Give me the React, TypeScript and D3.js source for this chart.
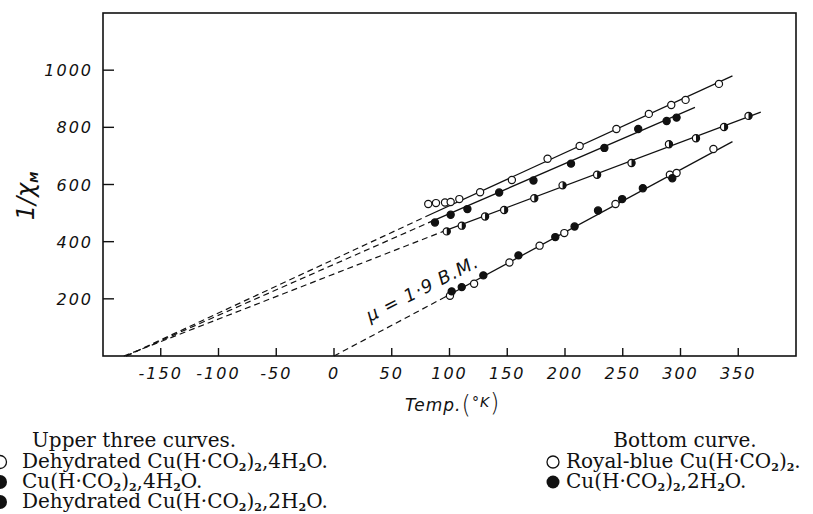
import React from "react";
import * as d3 from "d3";

// ---- data ----
const tempTicks = [-150, -100, -50, 0, 50, 100, 150, 200, 250, 300, 350];
const invTicks = [200, 400, 600, 800, 1000];

// Upper three curves
const dehyd4T = [81.6, 88.3, 96.1, 101, 108.5, 126.5, 154, 184.9, 212.7, 244.5, 272.6, 292, 304.4, 333.3];
const dehyd4Inv = [532, 535, 537, 539, 549, 573, 616, 690, 735, 794, 847, 878, 896, 952];

const tetraT = [87.4, 101, 115.5, 143, 172.7, 205.2, 234.1, 263.4, 288, 296.6];
const tetraInv = [467, 494, 514, 572, 614, 673, 728, 794, 822, 834];

const dehyd2T = [97.6, 110.6, 130.8, 147.3, 173.4, 197.9, 227.8, 257.6, 290, 313.4, 337.7, 358.9];
const dehyd2Inv = [436, 456, 488, 511, 552, 597, 634, 675, 741, 762, 801, 840];

// Bottom curve
const royalT = [100.4, 121.3, 151.9, 178, 199.4, 243.7, 290.8, 296.6, 328.5];
const royalInv = [211, 253, 327, 386, 430, 532, 634, 640, 724];

const diT = [101.9, 110.6, 129.3, 159.7, 191.6, 208.3, 228.6, 249.5, 267.4, 292.9];
const diInv = [226, 241, 282, 352, 416, 453, 509, 549, 587, 622];

// fitted lines: [T, 1/chi] end points
const fitDehyd4: [number, number][] = [[79.6, 488], [345, 980]];
const fitTetra: [number, number][] = [[84.5, 471], [312.5, 870]];
const fitDehyd2: [number, number][] = [[94.6, 436], [369.5, 853]];
const fitRoyal: [number, number][] = [[94.6, 203], [345, 750]];

// dashed extrapolations to 1/chi = 0
const extDehyd4: [number, number][] = [[-180, 0], [79.6, 488]];
const extTetra: [number, number][] = [[-180, 0], [84.5, 471]];
const extDehyd2: [number, number][] = [[-182, 0], [94.6, 436]];
const extRoyal: [number, number][] = [[0, 0], [94.6, 203]];

type Seg = [string, boolean];
const legendUpperTitle = "Upper three curves.";
const legendBottomTitle = "Bottom curve.";
const legendDehyd4: Seg[] = [["Dehydrated Cu(H·CO", false], ["2", true], [")", false], ["2", true], [",4H", false], ["2", true], ["O.", false]];
const legendTetra: Seg[] = [["Cu(H·CO", false], ["2", true], [")", false], ["2", true], [",4H", false], ["2", true], ["O.", false]];
const legendDehyd2: Seg[] = [["Dehydrated Cu(H·CO", false], ["2", true], [")", false], ["2", true], [",2H", false], ["2", true], ["O.", false]];
const legendRoyal: Seg[] = [["Royal-blue Cu(H·CO", false], ["2", true], [")", false], ["2", true], [".", false]];
const legendDi: Seg[] = [["Cu(H·CO", false], ["2", true], [")", false], ["2", true], [",2H", false], ["2", true], ["O.", false]];

const W = 813;
const H = 514;
const left = 103, right = 796, top = 13, bottom = 356;

const x = d3.scaleLinear().domain([-200, 400]).range([left, right]);
const y = d3.scaleLinear().domain([0, 1200]).range([bottom, top]);
const line = d3.line<[number, number]>().x((d) => x(d[0])).y((d) => y(d[1]));

const tickFont = "'DejaVu Sans', sans-serif";
const serif = "'DejaVu Serif', serif";
const LFS = 20;

function Formula({ segs, x0, y0 }: { segs: Seg[]; x0: number; y0: number }) {
  const parts: React.ReactNode[] = [];
  let prevSub = false;
  segs.forEach(([t, sub], i) => {
    let dy = 0;
    if (sub && !prevSub) dy = 3;
    if (!sub && prevSub) dy = -3;
    parts.push(
      <tspan key={i} dy={dy} fontSize={sub ? 11 : LFS} fontWeight={sub ? "bold" : "normal"}>
        {t}
      </tspan>
    );
    prevSub = sub;
  });
  return (
    <text x={x0} y={y0} fontFamily={serif} fontSize={LFS} fill="#111">
      {parts}
    </text>
  );
}

function Markers({ ts, vs, kind }: { ts: number[]; vs: number[]; kind: "open" | "filled" | "half" }) {
  const r = 3.6;
  return (
    <g>
      {ts.map((t, i) => {
        const cx = x(t);
        const cy = y(vs[i]);
        if (kind === "half") {
          return (
            <g key={i}>
              <circle cx={cx} cy={cy} r={r} fill="#fff" stroke="#111" strokeWidth={1.2} />
              <path d={`M${cx},${cy - r} A${r},${r} 0 0 1 ${cx},${cy + r} Z`} fill="#111" />
            </g>
          );
        }
        return (
          <circle key={i} cx={cx} cy={cy} r={r} fill={kind === "filled" ? "#111" : "#fff"} stroke="#111" strokeWidth={1.2} />
        );
      })}
    </g>
  );
}

export default function App() {
  const fits = [fitDehyd4, fitTetra, fitDehyd2, fitRoyal];
  const exts = [extDehyd4, extTetra, extDehyd2, extRoyal];
  return (
    <svg width={W} height={H} style={{ position: "absolute", left: 0, top: 0, background: "#fff" }}>
      <rect x={0} y={0} width={W} height={H} fill="#fff" />
      {/* frame */}
      <rect x={left} y={top} width={right - left} height={bottom - top} fill="none" stroke="#111" strokeWidth={1.6} />
      {/* x ticks */}
      {tempTicks.map((t) => (
        <g key={t}>
          <line x1={x(t)} x2={x(t)} y1={bottom} y2={bottom - 8} stroke="#111" strokeWidth={1.4} />
          <text x={x(t)} y={379} textAnchor="middle" fontFamily={tickFont} fontStyle="italic" fontSize={16} letterSpacing={2} fill="#111">
            {t < 0 ? "-" + Math.abs(t) : t}
          </text>
        </g>
      ))}
      {/* y ticks */}
      {invTicks.map((v) => (
        <g key={v}>
          <line x1={left} x2={left + 11} y1={y(v)} y2={y(v)} stroke="#111" strokeWidth={1.4} />
          <text x={93} y={y(v) + 6} textAnchor="end" fontFamily={tickFont} fontStyle="italic" fontSize={16} letterSpacing={2} fill="#111">
            {v}
          </text>
        </g>
      ))}
      {/* y label */}
      <g transform="translate(34,196) rotate(-90)">
        <text textAnchor="middle" fontFamily={tickFont} fontStyle="italic" fontSize={24} fill="#111">
          1/χ<tspan fontSize={11} dy={4} fontWeight="bold">M</tspan>
        </text>
      </g>
      {/* x label */}
      <text x={405} y={411} fontFamily={tickFont} fontStyle="italic" fontSize={17} letterSpacing={1} fill="#111">
        Temp.<tspan fontSize={24} dy={2} fontStyle="normal" fontWeight="200">(</tspan>
        <tspan fontSize={14} dy={-6}>°K</tspan>
        <tspan fontSize={24} dy={4} fontStyle="normal" fontWeight="200">)</tspan>
      </text>

      {/* dashed extrapolations */}
      {exts.map((e, i) => (
        <path key={"e" + i} d={line(e) || ""} fill="none" stroke="#111" strokeWidth={1.2} strokeDasharray="6,4" />
      ))}
      {/* fitted lines */}
      {fits.map((f, i) => (
        <path key={"f" + i} d={line(f) || ""} fill="none" stroke="#111" strokeWidth={1.3} />
      ))}

      {/* mu label */}
      <text
        transform={`translate(370,322) rotate(-27)`}
        fontFamily={tickFont}
        fontStyle="italic"
        fontSize={18}
        fill="#111"
        letterSpacing={1}
      >
        μ = 1·9 B.M.
      </text>

      {/* markers */}
      <Markers ts={dehyd4T} vs={dehyd4Inv} kind="open" />
      <Markers ts={tetraT} vs={tetraInv} kind="filled" />
      <Markers ts={dehyd2T} vs={dehyd2Inv} kind="half" />
      <Markers ts={royalT} vs={royalInv} kind="open" />
      <Markers ts={diT} vs={diInv} kind="filled" />

      {/* legend left */}
      <text x={32} y={447} fontFamily={serif} fontSize={LFS} fill="#111">{legendUpperTitle}</text>
      <circle cx={0} cy={462} r={6.5} fill="#fff" stroke="#111" strokeWidth={1.3} />
      <Formula segs={legendDehyd4} x0={22} y0={468} />
      <circle cx={0} cy={482} r={7} fill="#111" />
      <Formula segs={legendTetra} x0={22} y0={488} />
      <circle cx={0} cy={502} r={7} fill="#111" />
      <Formula segs={legendDehyd2} x0={22} y0={508} />

      {/* legend right */}
      <text x={685} y={447} textAnchor="middle" fontFamily={serif} fontSize={LFS} fill="#111">{legendBottomTitle}</text>
      <circle cx={553} cy={462} r={6} fill="#fff" stroke="#111" strokeWidth={1.3} />
      <Formula segs={legendRoyal} x0={566} y0={468} />
      <circle cx={553} cy={482} r={6.5} fill="#111" />
      <Formula segs={legendDi} x0={566} y0={488} />
    </svg>
  );
}
